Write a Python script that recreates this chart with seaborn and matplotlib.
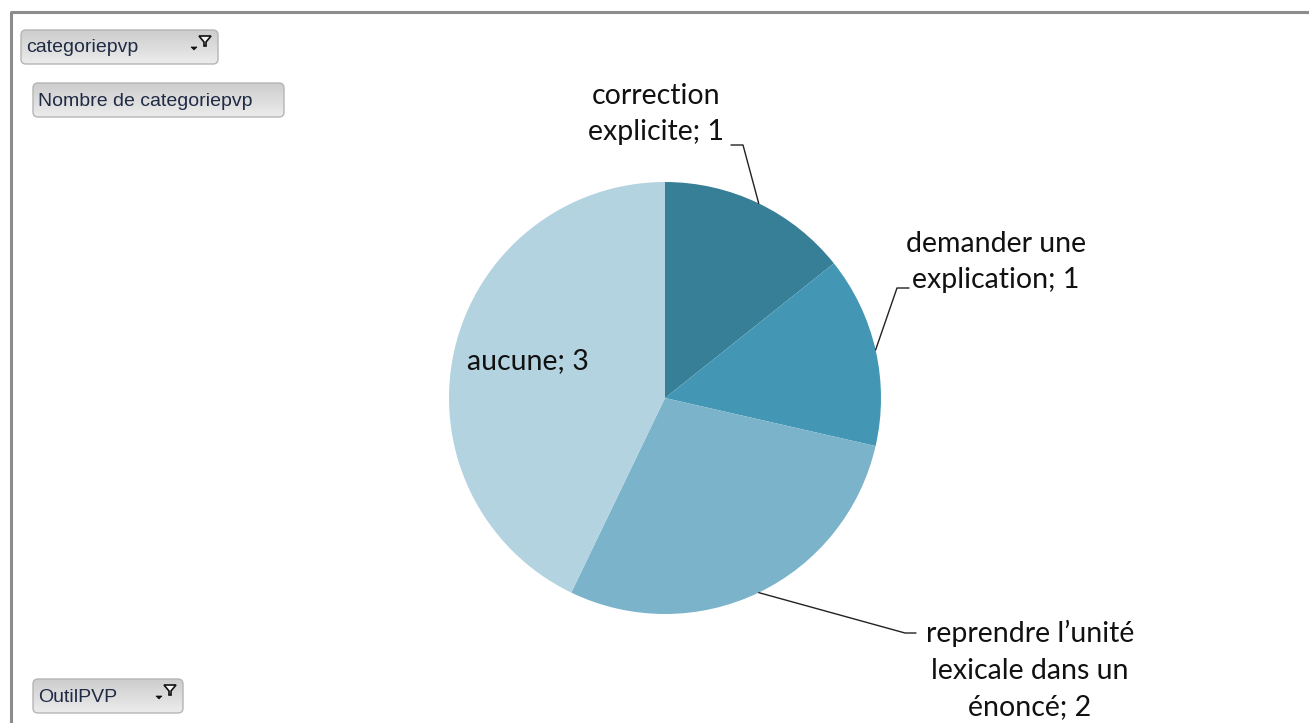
import numpy as np
import matplotlib
matplotlib.use("Agg")
import matplotlib.pyplot as plt
from matplotlib.patches import FancyBboxPatch, Polygon
import seaborn as sns

# data
CATEGORIES = ["correction\nexplicite", "demander une\nexplication",
              "reprendre l\u2019unit\u00e9\nlexicale dans un\n\u00e9nonc\u00e9", "aucune"]
COUNTS = [1, 1, 2, 3]
COLORS = ["#377f97", "#4397b4", "#7bb4ca", "#b3d3e0"]

W, H = 1309, 723
CENTER = (665, 398)
RADIUS = 216

sns.set_theme(style="white")
plt.rcParams["font.family"] = ["Lato", "DejaVu Sans"]


def Y(py):
    return H - py


fig = plt.figure(figsize=(W / 100, H / 100), dpi=100)
ax = fig.add_axes([0, 0, 1, 1])
ax.set_xlim(0, W)
ax.set_ylim(0, H)
ax.set_aspect("equal")
ax.axis("off")

wedges, _ = ax.pie(COUNTS, colors=COLORS, startangle=90, counterclock=False,
                   center=(CENTER[0], Y(CENTER[1])), radius=RADIUS,
                   wedgeprops=dict(linewidth=0))
ax.set_xlim(0, W)
ax.set_ylim(0, H)


def edge_point(w):
    mid = np.deg2rad((w.theta1 + w.theta2) / 2)
    return CENTER[0] + RADIUS * np.cos(mid), Y(CENTER[1]) + RADIUS * np.sin(mid)


labels = [f"{c}; {v}" for c, v in zip(CATEGORIES, COUNTS)]
fs = 20.5
ls = 1.45

# correction explicite
ex, ey = edge_point(wedges[0])
ax.plot([ex, 743, 731], [ey, Y(145), Y(145)], color="#222222", lw=1)
ax.text(656, Y(114), labels[0], ha="center", va="center", fontsize=fs,
        linespacing=ls, color="#111111")

# demander une explication
ex, ey = edge_point(wedges[1])
ax.plot([ex, 897, 909], [ey, Y(288), Y(288)], color="#222222", lw=1)
ax.text(996, Y(262), labels[1], ha="center", va="center", fontsize=fs,
        linespacing=ls, color="#111111")

# reprendre l'unité lexicale
ex, ey = edge_point(wedges[2])
ax.plot([ex, 905, 916], [ey, Y(633), Y(633)], color="#222222", lw=1)
ax.text(1030, Y(670), labels[2], ha="center", va="center", fontsize=fs,
        linespacing=1.5, color="#111111")

# aucune (inside)
ax.text(528, Y(361), labels[3], ha="center", va="center", fontsize=fs,
        color="#111111")

# outer frame
ax.plot([11, 11, W + 5], [-5, Y(12), Y(12)], color="#8c8c8c", lw=2.2,
        solid_capstyle="butt")

grad = np.linspace(0, 1, 64).reshape(-1, 1)


def button(x0, y0, x1, y1, text, funnel=False):
    box = FancyBboxPatch((x0, Y(y1)), x1 - x0, y1 - y0,
                         boxstyle="round,pad=0,rounding_size=5",
                         facecolor="none", edgecolor="#b5b5b5", lw=1, zorder=3)
    ax.add_patch(box)
    im = ax.imshow(grad, cmap=matplotlib.colors.LinearSegmentedColormap.from_list(
        "btn", ["#ececec", "#cdcdcd"]), extent=(x0, x1, Y(y0), Y(y1)),
        origin="upper", aspect="auto", zorder=2)
    im.set_clip_path(box)
    ax.text(x0 + 5, Y((y0 + y1) / 2) - 1, text, ha="left", va="center",
            fontsize=14, color="#1f2a44", family=["Liberation Sans", "DejaVu Sans"],
            zorder=4)
    if funnel:
        fx, fy = x1 - 13, y0 + 11
        ax.add_patch(Polygon([(fx - 6, Y(fy - 5)), (fx + 6, Y(fy - 5)), (fx + 1, Y(fy + 1)),
                              (fx + 1, Y(fy + 5)), (fx - 1, Y(fy + 5)), (fx - 1, Y(fy + 1))],
                             closed=True, facecolor="#f5f5f5", edgecolor="#111111",
                             lw=1.2, zorder=4))
        ax.add_patch(Polygon([(fx - 14, Y(fy + 6)), (fx - 8, Y(fy + 6)), (fx - 11, Y(fy + 9))],
                             closed=True, facecolor="#111111", edgecolor="#111111",
                             lw=0.5, zorder=4))


button(21, 30, 218, 64, "categoriepvp", funnel=True)
button(33, 83, 284, 117, "Nombre de categoriepvp")
button(33, 679, 183, 713, "OutilPVP", funnel=True)

ax.set_xlim(0, W)
ax.set_ylim(0, H)
fig.savefig("out.png", dpi=100, facecolor="white")
